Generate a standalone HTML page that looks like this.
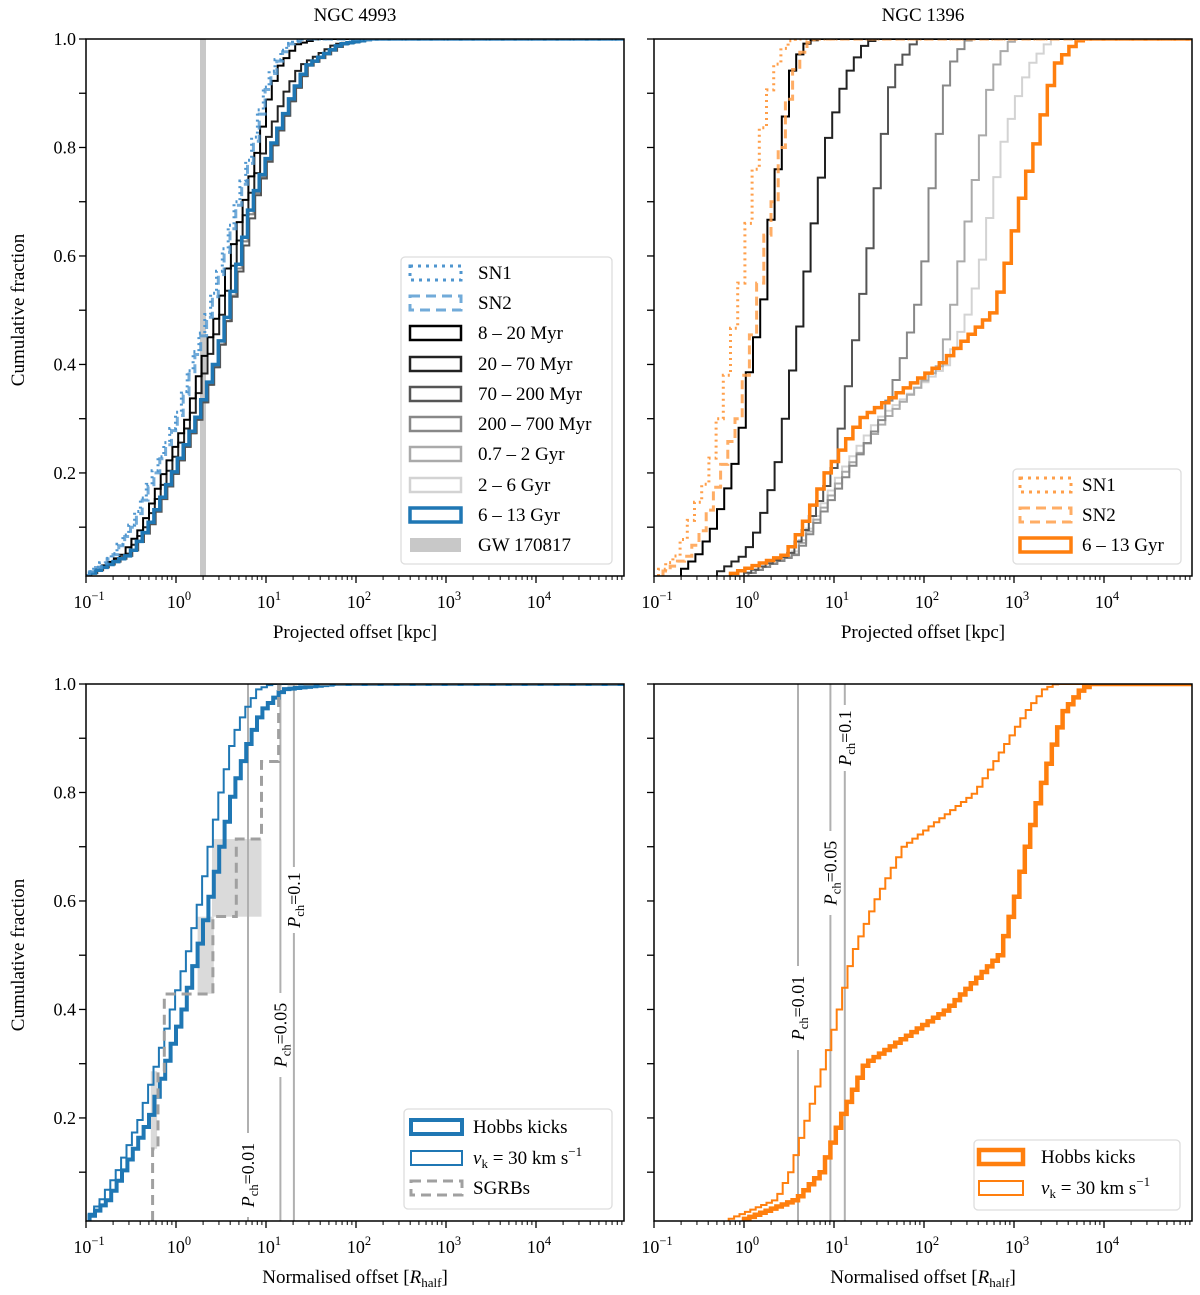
<!DOCTYPE html>
<html><head><meta charset="utf-8"><style>
body{margin:0;background:#fff}
svg{display:block;font-family:"Liberation Serif",serif}
</style></head><body>
<svg id="fig" width="1200" height="1295" viewBox="0 0 1200 1295" xmlns="http://www.w3.org/2000/svg">
<rect width="1200" height="1295" fill="#fff"/>
</svg>
<script>
// cumulative-fraction levels at which the offsets (log10) are read
const Q = [0.01,0.05,0.1,0.2,0.3,0.4,0.5,0.6,0.7,0.8,0.9,0.95,0.99,1.0];
// NGC 4993, projected offset (log10 kpc)
const tlSN1  = [-0.98,-0.66,-0.47,-0.21,0.04,0.21,0.40,0.56,0.71,0.88,1.01,1.12,1.27,1.4];
const tlSN2  = [-0.96,-0.63,-0.44,-0.18,0.07,0.24,0.43,0.59,0.74,0.91,1.04,1.15,1.30,1.45];
const tlM8   = [-0.95,-0.55,-0.34,-0.10,0.16,0.32,0.51,0.64,0.80,0.95,1.08,1.19,1.38,1.6];
const tlM20  = [-0.95,-0.50,-0.30,-0.05,0.20,0.38,0.56,0.70,0.84,1.02,1.25,1.42,1.80,2.2];
const tlM70  = [-0.94,-0.45,-0.24,0.04,0.30,0.50,0.65,0.79,0.92,1.13,1.37,1.52,1.90,2.2];
const tlM200 = [-0.95,-0.46,-0.26,0.03,0.29,0.49,0.64,0.77,0.90,1.12,1.36,1.51,1.88,2.2];
const tlG07  = [-0.96,-0.47,-0.27,0.02,0.28,0.48,0.63,0.76,0.89,1.11,1.35,1.50,1.87,2.2];
const tlG2   = [-0.96,-0.47,-0.27,0.01,0.27,0.47,0.62,0.75,0.88,1.10,1.34,1.49,1.86,2.2];
const tlG6   = [-0.96,-0.47,-0.27,0.01,0.27,0.47,0.62,0.75,0.88,1.10,1.34,1.49,1.86,2.2];
const gwOffset = 0.30;
// NGC 1396
const trSN1  = [-0.95,-0.69,-0.58,-0.34,-0.23,-0.13,-0.04,0.06,0.11,0.21,0.32,0.40,0.51,0.6];
const trSN2  = [-0.90,-0.55,-0.40,-0.21,-0.02,0.08,0.19,0.25,0.38,0.46,0.55,0.63,0.74,0.85];
const trM8   = [-0.70,-0.46,-0.29,-0.08,0.04,0.11,0.25,0.30,0.36,0.46,0.53,0.59,0.72,0.85];
const trM20  = [-0.30,0.06,0.21,0.40,0.50,0.59,0.69,0.76,0.86,0.95,1.12,1.24,1.39,1.5];
const trM70  = [0.00,0.55,0.74,1.03,1.14,1.24,1.33,1.43,1.50,1.58,1.66,1.75,1.92,2.0];
const trM200 = [0.05,0.63,0.82,1.20,1.58,1.79,1.96,2.06,2.11,2.19,2.27,2.34,2.48,2.55];
const trG07  = [0.05,0.61,0.80,1.16,1.62,2.23,2.36,2.46,2.57,2.67,2.76,2.84,2.97,3.05];
const trG2   = [0.05,0.59,0.78,1.12,1.54,2.30,2.55,2.70,2.80,2.91,3.10,3.22,3.41,3.5];
const trG6   = [-0.15,0.52,0.70,0.97,1.35,2.23,2.84,2.99,3.12,3.28,3.43,3.50,3.71,3.8];
// normalised offsets (log10 R_half)
const blHobbs = [-0.96,-0.71,-0.55,-0.25,-0.07,0.12,0.27,0.41,0.54,0.67,0.86,0.99,1.23,1.8];
const blVk30  = [-0.97,-0.79,-0.62,-0.36,-0.18,-0.01,0.16,0.30,0.41,0.53,0.67,0.80,0.95,1.1];
const sgrbOffsets = [-0.26,-0.20,-0.13,0.41,0.67,0.95,1.14];
// shaded SGRB ranges: [logx start, logx end, fraction low, fraction high]
const sgrbBoxA = [-0.28,-0.21,0.143,0.286];
const sgrbBoxB = [0.24,0.42,0.429,0.571];
const sgrbBoxC = [0.40,0.95,0.571,0.714];
const blPch = [0.80,1.16,1.31];
const brHobbs = [0.00,0.63,0.90,1.12,1.39,2.30,2.88,3.05,3.18,3.33,3.50,3.60,3.79,3.9];
const brVk30  = [-0.17,0.40,0.55,0.74,0.93,1.09,1.24,1.50,1.81,2.61,2.99,3.18,3.37,3.5];
const brPch = [0.60,0.96,1.12];
const pchLabels = ["0.01","0.05","0.1"];
const yTicks = [0.2,0.4,0.6,0.8,1.0];
const xDecades = [-1,0,1,2,3,4];

const NS="http://www.w3.org/2000/svg";
const svg=document.getElementById('fig');
function el(tag,attrs,parent){const e=document.createElementNS(NS,tag);for(const k in attrs)e.setAttribute(k,attrs[k]);(parent||svg).appendChild(e);return e;}

const W=538,H=537,DEC=90;
function mkAxes(L,T){
  return {L,T,px:v=>L+(v+1)*DEC,py:f=>T+(1-f)/0.99*H};
}
const panels=[mkAxes(86,39),mkAxes(654,39),mkAxes(86,684),mkAxes(654,684)];
function cdfAt(arr,x){
  if(x<=arr[0])return Q[0];
  for(let i=1;i<arr.length;i++){
    if(x<=arr[i]){const span=arr[i]-arr[i-1];const t=span>0?(x-arr[i-1])/span:1;return Q[i-1]+t*(Q[i]-Q[i-1]);}
  }
  return 1;
}
let clipN=0;
function clipFor(ax){
  const id='clip'+(clipN++);
  const cp=el('clipPath',{id});el('rect',{x:ax.L,y:ax.T,width:W,height:H},cp);return id;
}
function stepCurve(ax,arr,g,opts,name){
  const bw=opts.bw||0.06;
  const x0=arr[0],x1=arr[arr.length-1];
  let d='M'+ax.px(x0).toFixed(1)+','+ax.py(0.01).toFixed(1);
  for(let e=x0;e<x1+bw;e+=bw){
    const f=cdfAt(arr,e+bw);
    d+='V'+ax.py(f).toFixed(1)+'H'+ax.px(e+bw).toFixed(1);
  }
  d+='V'+ax.py(1).toFixed(1)+'H'+(ax.L+W+5);
  const p=el('path',{d,fill:'none',stroke:opts.c,'stroke-width':opts.w,'stroke-dasharray':opts.dash||'none','stroke-opacity':opts.o||1},g);
  
  
  return p;
}
function sup(parent,x,y,base,exp,anchor){
  const t=el('text',{x,y,'font-size':18,'text-anchor':anchor||'middle'},parent);
  t.appendChild(document.createTextNode(base));
  const s=el('tspan',{'font-size':12.5,dy:-8},t);s.textContent=exp;
  return t;
}
function frame(ax,showY,idx){
  const g=el('g',{});
  
  
  for(let k=1;k<=10;k++){
    const f=k/10;const y=ax.py(f);
    el('line',{x1:ax.L-7,x2:ax.L,y1:y,y2:y,stroke:'#000','stroke-width':1.3},g);
  }
  if(showY){
    yTicks.forEach(v=>{
      const t=el('text',{x:ax.L-10,y:ax.py(v)+6,'font-size':18,'text-anchor':'end'},g);
      
      
      t.textContent=v.toFixed(1);
    });
  }
  const yb=ax.T+H;
  xDecades.forEach(dd=>{
    const x=ax.px(dd);
    el('line',{x1:x,x2:x,y1:yb,y2:yb+7,stroke:'#000','stroke-width':1.3},g);
    const t=sup(g,x+3,yb+32,'10',dd<0?'\u22121':String(dd));
    
    
    for(let m=2;m<=9;m++){
      const xm=ax.px(dd+Math.log10(m));
      if(xm<=ax.L+W)el('line',{x1:xm,x2:xm,y1:yb,y2:yb+4,stroke:'#000','stroke-width':1},g);
    }
  });
  el('rect',{x:ax.L,y:ax.T,width:W,height:H,fill:'none',stroke:'#000','stroke-width':1.5},g);
}
function legend(x,y,w,h,entries,tx,hx,hw,name){
  const g=el('g',{});
  
  
  el('rect',{x,y,width:w,height:h,rx:4,fill:'#fff','fill-opacity':0.85,stroke:'#ddd','stroke-width':1.3},g);
  entries.forEach(e=>{
    const r=el('rect',{x:hx,y:e.y-7,width:hw,height:14,fill:e.fill||'none',stroke:e.fill?'none':e.c,'stroke-width':e.w,'stroke-dasharray':e.dash||'none','stroke-opacity':e.o||1},g);
    
    
    const t=el('text',{x:tx,y:e.y+6,'font-size':19},g);
    
    
    if(e.vk){t.innerHTML='<tspan font-style="italic">v</tspan><tspan font-size="13" dy="4">k</tspan><tspan dy="-4"> = 30 km s</tspan><tspan font-size="13" dy="-8">\u22121</tspan>';}
    else t.textContent=e.t;
  });
}
function pchLine(ax,v,lbl,cy,g){
  const x=ax.px(v);
  const l=el('line',{x1:x,x2:x,y1:ax.T,y2:ax.T+H,stroke:'#b0b0b0','stroke-width':2},g);
  
  
  const len=lbl.length>3?84:66;
  el('rect',{x:x-10,y:cy-len/2,width:20,height:len,rx:5,fill:'#fff'},g);
  const t=el('text',{x:0,y:0,'font-size':18,'text-anchor':'middle',transform:`translate(${x+6},${cy}) rotate(-90)`},g);
  
  
  t.innerHTML='<tspan font-style="italic">P</tspan><tspan font-size="12.5" dy="4">ch</tspan><tspan dy="-4">='+lbl+'</tspan>';
}

// ---- Panel 1: NGC 4993
(function(){
  const ax=panels[0];const g=el('g',{'clip-path':'url(#'+clipFor(ax)+')'});
  
  const gw=el('rect',{x:ax.px(gwOffset)-3,y:ax.T,width:6,height:H,fill:'#c8c8c8'},g);
  
  const bw=0.065;
  stepCurve(ax,tlG2,g,{c:'#d3d3d3',w:2,bw},'curve-2-6gyr');
  stepCurve(ax,tlG07,g,{c:'#aaaaaa',w:2,bw},'curve-0.7-2gyr');
  stepCurve(ax,tlM200,g,{c:'#888888',w:2,bw},'curve-200-700myr');
  stepCurve(ax,tlM70,g,{c:'#555555',w:2,bw},'curve-70-200myr');
  stepCurve(ax,tlM20,g,{c:'#222222',w:2,bw},'curve-20-70myr');
  stepCurve(ax,tlM8,g,{c:'#000',w:2,bw},'curve-8-20myr');
  stepCurve(ax,tlG6,g,{c:'#1f77b4',w:3.5,bw},'curve-6-13gyr');
  stepCurve(ax,tlSN1,g,{c:'#4f96cf',w:3,dash:'2,4',bw},'curve-sn1');
  stepCurve(ax,tlSN2,g,{c:'#4f96cf',w:3,dash:'9,5',o:0.8,bw},'curve-sn2');
  frame(ax,true,'ngc4993-projected');
  legend(401,257,211,307,[
    {y:273,t:'SN1',c:'#4f96cf',w:3,dash:'3,5'},
    {y:303,t:'SN2',c:'#4f96cf',w:3,dash:'10,6',o:0.8},
    {y:333,t:'8 \u2013 20 Myr',c:'#000',w:2.5},
    {y:364,t:'20 \u2013 70 Myr',c:'#222',w:2.5},
    {y:394,t:'70 \u2013 200 Myr',c:'#555',w:2.5},
    {y:424,t:'200 \u2013 700 Myr',c:'#888',w:2.5},
    {y:454,t:'0.7 \u2013 2 Gyr',c:'#aaa',w:2.5},
    {y:485,t:'2 \u2013 6 Gyr',c:'#d3d3d3',w:2.5},
    {y:515,t:'6 \u2013 13 Gyr',c:'#1f77b4',w:3.5},
    {y:545,t:'GW 170817',fill:'#c8c8c8',c:'#c8c8c8',w:0}
  ],478,410,51,'legend-ngc4993');
})();
// ---- Panel 2: NGC 1396
(function(){
  const ax=panels[1];const g=el('g',{'clip-path':'url(#'+clipFor(ax)+')'});
  
  const bw=0.08;
  stepCurve(ax,trG2,g,{c:'#d3d3d3',w:2,bw},'curve-2-6gyr');
  stepCurve(ax,trG07,g,{c:'#aaaaaa',w:2,bw},'curve-0.7-2gyr');
  stepCurve(ax,trM200,g,{c:'#888888',w:2,bw},'curve-200-700myr');
  stepCurve(ax,trM70,g,{c:'#555555',w:2,bw},'curve-70-200myr');
  stepCurve(ax,trM20,g,{c:'#222222',w:2,bw},'curve-20-70myr');
  stepCurve(ax,trM8,g,{c:'#000',w:2,bw},'curve-8-20myr');
  stepCurve(ax,trG6,g,{c:'#ff7f0e',w:3.5,bw},'curve-6-13gyr');
  stepCurve(ax,trSN1,g,{c:'#ff9f4a',w:3,dash:'2,4',bw},'curve-sn1');
  stepCurve(ax,trSN2,g,{c:'#ff9f4a',w:3,dash:'9,5',o:0.85,bw},'curve-sn2');
  frame(ax,false,'ngc1396-projected');
  legend(1013,469,168,95,[
    {y:485,t:'SN1',c:'#ff9f4a',w:3,dash:'3,5'},
    {y:515,t:'SN2',c:'#ff9f4a',w:3,dash:'10,6',o:0.85},
    {y:545,t:'6 \u2013 13 Gyr',c:'#ff7f0e',w:3.5}
  ],1082,1020,51,'legend-ngc1396');
})();
// ---- Panel 3: normalised NGC 4993
(function(){
  const ax=panels[2];const g=el('g',{'clip-path':'url(#'+clipFor(ax)+')'});
  
  [sgrbBoxA,sgrbBoxB,sgrbBoxC].forEach(b=>{
    const r=el('rect',{x:ax.px(b[0]),y:ax.py(b[3]),width:ax.px(b[1])-ax.px(b[0]),height:ax.py(b[2])-ax.py(b[3]),fill:'#d3d3d3','fill-opacity':0.85},g);
    
  });
  pchLine(ax,blPch[0],pchLabels[0],1175,g);
  pchLine(ax,blPch[1],pchLabels[1],1035,g);
  pchLine(ax,blPch[2],pchLabels[2],900,g);
  stepCurve(ax,blVk30,g,{c:'#1f77b4',w:2,bw:0.06},'curve-vk30');
  stepCurve(ax,blHobbs,g,{c:'#1f77b4',w:4,bw:0.06},'curve-hobbs');
  const n=sgrbOffsets.length;
  let d='M'+ax.px(sgrbOffsets[0]).toFixed(1)+','+ax.py(0.01);
  sgrbOffsets.forEach((v,i)=>{d+='V'+ax.py((i+1)/n).toFixed(1);d+='H'+(i<n-1?ax.px(sgrbOffsets[i+1]):ax.L+W+5).toFixed(1);});
  const s=el('path',{d,fill:'none',stroke:'#a0a0a0','stroke-width':3,'stroke-dasharray':'10,6'},g);
  
  frame(ax,true,'ngc4993-normalised');
  legend(404,1109,208,100,[
    {y:1127,t:'Hobbs kicks',c:'#1f77b4',w:4},
    {y:1158,vk:true,c:'#1f77b4',w:2},
    {y:1188,t:'SGRBs',c:'#a0a0a0',w:3,dash:'10,6'}
  ],473,411,51,'legend-normalised-4993');
})();
// ---- Panel 4: normalised NGC 1396
(function(){
  const ax=panels[3];const g=el('g',{'clip-path':'url(#'+clipFor(ax)+')'});
  
  pchLine(ax,brPch[0],pchLabels[0],1008,g);
  pchLine(ax,brPch[1],pchLabels[1],873,g);
  pchLine(ax,brPch[2],pchLabels[2],738,g);
  stepCurve(ax,brVk30,g,{c:'#ff7f0e',w:2,bw:0.06},'curve-vk30');
  stepCurve(ax,brHobbs,g,{c:'#ff7f0e',w:4.5,bw:0.06},'curve-hobbs');
  frame(ax,false,'ngc1396-normalised');
  legend(974,1140,206,70,[
    {y:1157,t:'Hobbs kicks',c:'#ff7f0e',w:4.5},
    {y:1188,vk:true,c:'#ff7f0e',w:2}
  ],1041,979,44,'legend-normalised-1396');
})();
function txt(x,y,s,name,rot){const t=el('text',{x,y,'font-size':19,'text-anchor':'middle'});if(rot)t.setAttribute('transform',`rotate(-90 ${x} ${y})`);t.innerHTML=s;return t;}
txt(355,21,'NGC 4993','title-ngc4993');
txt(923,21,'NGC 1396','title-ngc1396');
txt(355,638,'Projected offset [kpc]','x-axis-title');
txt(923,638,'Projected offset [kpc]','x-axis-title');
const rl='Normalised offset [<tspan font-style="italic">R</tspan><tspan font-size="13" dy="4">half</tspan><tspan dy="-4">]</tspan>';
txt(355,1283,rl,'x-axis-title');
txt(923,1283,rl,'x-axis-title');
txt(24,310,'Cumulative fraction','y-axis-title',true);
txt(24,955,'Cumulative fraction','y-axis-title',true);
</script>
</body></html>
